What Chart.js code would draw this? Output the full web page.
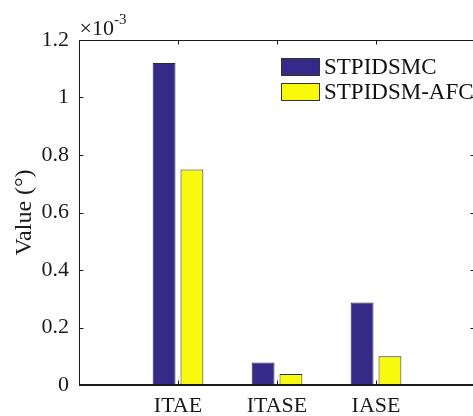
<!DOCTYPE html>
<html>
<head>
  <meta charset="UTF-8">
  <script src="https://cdn.jsdelivr.net/npm/chart.js"></script>
  <style>
    html, body { margin: 0; padding: 0; background: #ffffff; overflow: hidden; }
    .chart-box { position: relative; width: 476px; height: 416px; }
  </style>
</head>
<body>
  <div class="chart-box">
    <canvas id="barChart"></canvas>
  </div>

  <script>
    // values are in units of 1e-3
    const categories = ['ITAE', 'ITASE', 'IASE'];
    const stpidsmc   = [1.12, 0.078, 0.287];
    const stpidsmAfc = [0.75, 0.038, 0.100];
    const yTicks     = [0, 0.2, 0.4, 0.6, 0.8, 1, 1.2];

    const axisColor = '#1a1a1a';
    const fontFam = '"Liberation Serif", "Times New Roman", serif';

    // bars sit at category index 1..3 on a 0..4 axis
    const toPoints = vals => vals.map((v, i) => ({ x: i + 1, y: v }));

    // top/right box, inward tick marks, exponent and legend
    const matlabFrame = {
      id: 'matlabFrame',
      afterDraw(chart) {
        const ctx = chart.ctx;
        const a = chart.chartArea;
        const xs = chart.scales.x, ys = chart.scales.y;
        const L = Math.floor(a.left) + 0.5, R = Math.floor(a.right) - 0.5;
        const T = Math.floor(a.top) + 0.5, B = Math.floor(a.bottom) - 0.5;
        ctx.save();
        ctx.strokeStyle = axisColor;
        ctx.lineWidth = 1;
        ctx.beginPath();
        ctx.moveTo(L, T);
        ctx.lineTo(R, T);
        ctx.lineTo(R, B);
        ctx.lineTo(L, B);
        ctx.closePath();
        ctx.stroke();
        ctx.beginPath();
        ys.ticks.forEach(t => {
          const y = Math.round(ys.getPixelForValue(t.value)) + 0.5;
          ctx.moveTo(L, y); ctx.lineTo(L + 4, y);
          ctx.moveTo(R, y); ctx.lineTo(R - 4, y);
        });
        xs.ticks.forEach(t => {
          const x = Math.round(xs.getPixelForValue(t.value)) + 0.5;
          ctx.moveTo(x, B); ctx.lineTo(x, B - 4);
          ctx.moveTo(x, T); ctx.lineTo(x, T + 4);
        });
        ctx.stroke();

        // x10^-3 multiplier
        ctx.fillStyle = axisColor;
        ctx.textBaseline = 'alphabetic';
        ctx.textAlign = 'left';
        ctx.font = '22px ' + fontFam;
        ctx.fillText('\u00d710', L, T - 6);
        const w = ctx.measureText('\u00d710').width;
        ctx.font = '15px ' + fontFam;
        ctx.fillText('-3', L + w, T - 17);

        // legend
        const lx = 281, ly = 58, bw = 39, bh = 18, gap = 25;
        ctx.font = '23px ' + fontFam;
        ctx.textBaseline = 'middle';
        chart.data.datasets.forEach((ds, i) => {
          const y = ly + i * gap;
          ctx.fillStyle = ds.backgroundColor;
          ctx.fillRect(lx, y, bw, bh);
          ctx.strokeStyle = '#333333';
          ctx.strokeRect(lx + 0.5, y + 0.5, bw - 1, bh - 1);
          ctx.fillStyle = '#111111';
          ctx.fillText(ds.label, lx + bw + 4, y + bh / 2 + 1);
        });
        ctx.restore();
      }
    };

    new Chart(document.getElementById('barChart'), {
      type: 'bar',
      data: {
        datasets: [
          {
            label: 'STPIDSMC',
            data: toPoints(stpidsmc),
            backgroundColor: '#352A87',
            borderColor: '#2a2a2a',
            borderWidth: 1
          },
          {
            label: 'STPIDSM-AFC',
            data: toPoints(stpidsmAfc),
            backgroundColor: '#F8FA0D',
            borderColor: '#2a2a2a',
            borderWidth: 1
          }
        ]
      },
      options: {
        responsive: true,
        maintainAspectRatio: false,
        animation: false,
        categoryPercentage: 0.563,
        barPercentage: 0.82,
        layout: { padding: { top: 40, right: 1, left: 0, bottom: 0 } },
        plugins: {
          legend: { display: false },
          tooltip: { enabled: false }
        },
        scales: {
          x: {
            type: 'linear',
            offset: false,
            min: 0,
            max: categories.length + 1,
            grid: { display: false },
            border: { display: true, color: axisColor, width: 1 },
            afterBuildTicks: s => { s.ticks = categories.map((c, i) => ({ value: i + 1 })); },
            afterFit: s => { s.height = 31; },
            ticks: {
              color: axisColor,
              font: { family: fontFam, size: 22 },
              padding: 0,
              maxRotation: 0,
              autoSkip: false,
              callback: v => categories[v - 1]
            }
          },
          y: {
            min: 0,
            max: 1.2,
            grid: { display: false },
            border: { display: true, color: axisColor, width: 1 },
            afterBuildTicks: s => { s.ticks = yTicks.map(v => ({ value: v })); },
            afterFit: s => { s.width = 79; },
            ticks: {
              color: axisColor,
              font: { family: fontFam, size: 22 },
              padding: 2,
              callback: v => String(+v.toFixed(1))
            },
            title: {
              display: true,
              text: 'Value (\u00b0)',
              color: axisColor,
              font: { family: fontFam, size: 24 },
              padding: { top: 10, bottom: 0 }
            }
          }
        }
      },
      plugins: [matlabFrame]
    });
  </script>
</body>
</html>
